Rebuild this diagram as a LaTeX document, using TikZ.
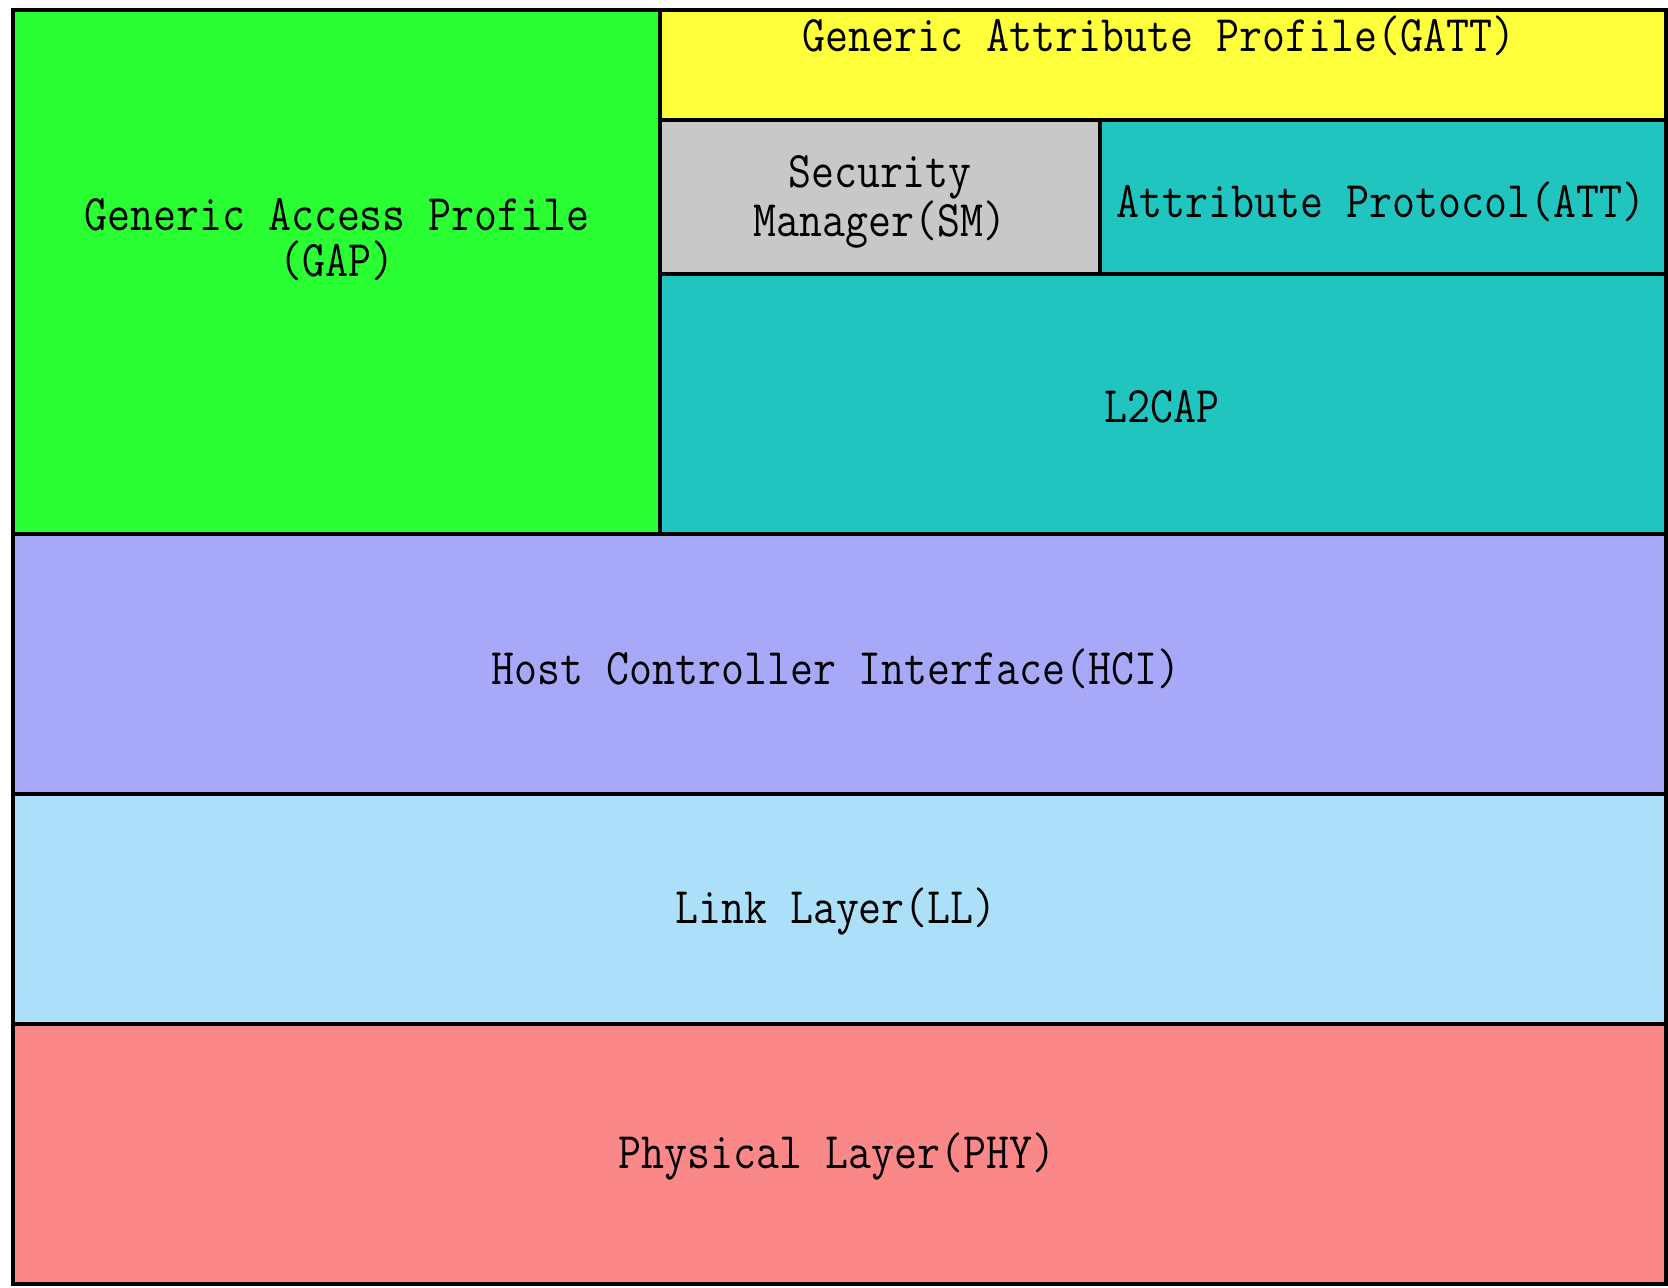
\documentclass[tikz,border=0pt]{standalone}
\usetikzlibrary{positioning}

\definecolor{gapgreen}{RGB}{41,255,51}
\definecolor{gattyellow}{RGB}{255,255,60}
\definecolor{smgray}{RGB}{200,200,200}
\definecolor{attteal}{RGB}{32,197,192}
\definecolor{hcilavender}{RGB}{168,168,248}
\definecolor{llblue}{RGB}{172,224,248}
\definecolor{phypink}{RGB}{250,136,136}

\begin{document}
\begin{tikzpicture}[x=0.5pt,y=-0.5pt,font=\ttfamily\fontsize{22.3}{20}\selectfont]
    \tikzstyle{layer}=[draw=black,line width=2.2pt,rectangle,inner sep=0pt]
    \tikzstyle{caption}=[align=center,inner sep=0pt,yscale=1.15,transform shape]

    \path[fill=white,use as bounding box] (0,0) rectangle (1668,1288);

    % host side
    \node[layer,fill=gapgreen,minimum width=323.5pt,minimum height=262pt] (gap) at (336.5,272) {};
    \node[layer,fill=gattyellow,minimum width=503pt,minimum height=55pt] (gatt) at (1163,65) {};
    \node[layer,fill=smgray,minimum width=220pt,minimum height=77pt] (sm) at (880,197) {};
    \node[layer,fill=attteal,minimum width=283pt,minimum height=77pt] (att) at (1383,197) {};
    \node[layer,fill=attteal,minimum width=503pt,minimum height=130pt] (l2cap) at (1163,404) {};

    % interface and controller
    \node[layer,fill=hcilavender,minimum width=826.5pt,minimum height=130pt] (hci) at (839.5,664) {};
    \node[layer,fill=llblue,minimum width=826.5pt,minimum height=115pt] (ll) at (839.5,909) {};
    \node[layer,fill=phypink,minimum width=826.5pt,minimum height=130pt] (phy) at (839.5,1154) {};

    \node[caption] (gaptext) at (337,240) {Generic Access Profile\\(GAP)};
    \node[caption] (gatttext) at (1159,36) {Generic Attribute Profile(GATT)};
    \node[caption] (smtext) at (880,202) {Security\\Manager(SM)};
    \node[caption] (atttext) at (1381,202) {Attribute Protocol(ATT)};
    \node[caption] (l2captext) at (1162,407) {L2CAP};
    \node[caption] (hcitext) at (836,669) {Host Controller Interface(HCI)};
    \node[caption] (lltext) at (836,912) {Link Layer(LL)};
    \node[caption] (phytext) at (837,1157) {Physical Layer(PHY)};
\end{tikzpicture}
\end{document}
